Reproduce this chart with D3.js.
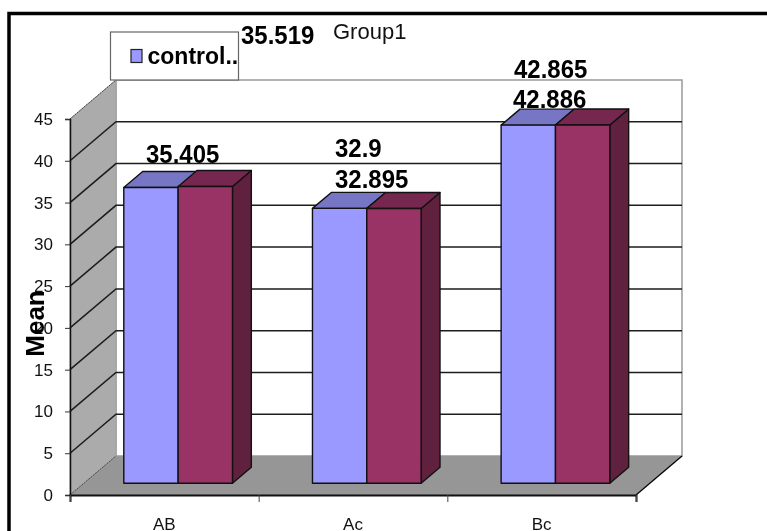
<!DOCTYPE html>
<html>
<head>
<meta charset="utf-8">
<script src="https://cdn.jsdelivr.net/npm/d3@7"></script>
<style>
	html, body { margin: 0; padding: 0; background: #fff; overflow: hidden; }
	svg { display: block; filter: blur(0.45px); font-family: "Liberation Sans", Arial, sans-serif; }
	.tick text { font-size: 17px; fill: #111; }
	.value { font-size: 25.5px; font-weight: bold; fill: #000; }
</style>
</head>
<body>
<div id="chart"></div>
<script>
var categories = ['AB', 'Ac', 'Bc'];
var seriesNames = ['control..', 'Group1'];
var control = [35.405, 32.9, 42.865];
var group1 = [35.519, 32.895, 42.886];
var yTicks = [0, 5, 10, 15, 20, 25, 30, 35, 40, 45];
var labelTexts = ['35.519', '35.405', '32.9', '32.895', '42.865', '42.886'];

var width = 767,
	height = 531,
	left = 70,
	right = 636,
	bottom = 495,
	top45 = 119;

var colors = {
	front: ['#9999ff', '#993366'],
	lid: ['#7676c4', '#76274f'],
	side: ['#7070b8', '#60213f']
};

var xScale = d3.scaleBand().domain(categories).range([left, right]).paddingInner(0.424).paddingOuter(0.212),
	xEdges = d3.scaleLinear().domain([0, 3]).range([left, right]),
	xInner = d3.scaleBand().domain([0, 1]).range([0, xScale.bandwidth()]),
	yScale = d3.scaleLinear().domain([0, 45]).range([bottom, top45]),
	depthX = d3.scaleLinear().domain([0, 1]).range([0, 46]),
	depthY = d3.scaleLinear().domain([0, 1]).range([0, 39]);

var barFront = 0.3, barBack = 0.71;

// screen point for a position on the x axis, a value and a depth into the box
function pt(x, v, d) {
	return [x + depthX(d), yScale(v) - depthY(d)];
}
var poly = d3.line();

var svg = d3.select('#chart').append('svg')
	.attr('width', width)
	.attr('height', height);

// outer frame, only top and left show in the crop
svg.append('path')
	.attr('d', 'M9,531V13.5H767')
	.attr('fill', 'none')
	.attr('stroke', '#000')
	.attr('stroke-width', 3.5);

// back wall
svg.append('path')
	.attr('d', poly([pt(left, 0, 1), pt(left, 45, 1), pt(right, 45, 1), pt(right, 0, 1)]) + 'Z')
	.attr('fill', '#fff')
	.attr('stroke', '#999')
	.attr('stroke-width', 1.5);

// left wall
svg.append('path')
	.attr('d', poly([pt(left, 0, 0), pt(left, 45, 0), pt(left, 45, 1), pt(left, 0, 1)]) + 'Z')
	.attr('fill', '#ababab')
	.attr('stroke', '#a0a0a0');

// floor
svg.append('path')
	.attr('d', poly([pt(left, 0, 0), pt(right, 0, 0), pt(right, 0, 1), pt(left, 0, 1)]) + 'Z')
	.attr('fill', '#969696');

// gridlines on both walls
var gridVals = yTicks.filter(function(d) { return d > 0 && d < 45; });
svg.append('g').selectAll('path')
	.data(gridVals)
	.enter().append('path')
	.attr('d', function(d) { return poly([pt(left, d, 0), pt(left, d, 1), pt(right, d, 1)]); })
	.attr('fill', 'none')
	.attr('stroke', '#1c1c1c')
	.attr('stroke-width', 1.5);

// thin edges of the left wall
svg.append('path')
	.attr('d', poly([pt(left, 45, 0), pt(left, 45, 1)]))
	.attr('stroke', '#444')
	.attr('stroke-dasharray', '2,1');
svg.append('path')
	.attr('d', poly([pt(left, 0, 0), pt(left, 0, 1)]))
	.attr('stroke', '#444')
	.attr('stroke-dasharray', '2,1');
svg.append('path')
	.attr('d', poly([pt(right, 0, 0), pt(right, 0, 1)]))
	.attr('stroke', '#000')
	.attr('stroke-width', 1.2);

// bars
var barData = [];
categories.forEach(function(c, i) {
	barData.push({ cat: c, s: 0, v: control[i] });
	barData.push({ cat: c, s: 1, v: group1[i] });
});

var bars = svg.append('g').selectAll('g')
	.data(barData)
	.enter().append('g')
	.attr('stroke', '#111')
	.attr('stroke-width', 1.4)
	.attr('stroke-linejoin', 'round');

function x0(d) { return xScale(d.cat) + xInner(d.s); }
function x1(d) { return x0(d) + xInner.bandwidth(); }

bars.filter(function(d) { return d.s === 1; }).append('path')
	.attr('d', function(d) {
		return poly([pt(x1(d), 0, barFront), pt(x1(d), 0, barBack), pt(x1(d), d.v, barBack), pt(x1(d), d.v, barFront)]) + 'Z';
	})
	.attr('fill', function(d) { return colors.side[d.s]; });

bars.append('path')
	.attr('d', function(d) {
		return poly([pt(x0(d), d.v, barFront), pt(x0(d), d.v, barBack), pt(x1(d), d.v, barBack), pt(x1(d), d.v, barFront)]) + 'Z';
	})
	.attr('fill', function(d) { return colors.lid[d.s]; });

bars.append('path')
	.attr('d', function(d) {
		return poly([pt(x0(d), 0, barFront), pt(x0(d), d.v, barFront), pt(x1(d), d.v, barFront), pt(x1(d), 0, barFront)]) + 'Z';
	})
	.attr('fill', function(d) { return colors.front[d.s]; });

// axes
var yAxis = d3.axisLeft(yScale).tickValues(yTicks).tickSize(5).tickPadding(12);
var yG = svg.append('g')
	.attr('transform', 'translate(' + left + ',0)')
	.call(yAxis);
yG.select('.domain').attr('stroke', '#111').attr('stroke-width', 1.5);
yG.selectAll('.tick line').attr('stroke', '#333');

var edgeAxis = d3.axisBottom(xEdges).tickValues([0, 1, 2, 3]).tickSize(7).tickFormat('');
var eG = svg.append('g')
	.attr('transform', 'translate(0,' + bottom + ')')
	.call(edgeAxis);
eG.select('.domain').attr('stroke', '#111').attr('stroke-width', 2);
eG.selectAll('.tick line').attr('stroke', '#444');

var xG = svg.append('g')
	.attr('transform', 'translate(0,' + bottom + ')')
	.call(d3.axisBottom(xScale).tickSize(0).tickPadding(23));
xG.select('.domain').remove();

svg.append('text')
	.attr('transform', 'translate(44,323.5) rotate(-90)')
	.attr('text-anchor', 'middle')
	.attr('font-size', 26)
	.attr('font-weight', 'bold')
	.text('Mean');

// data labels, dragged around by hand in the original
var labelXY = [[241, 44], [146, 163], [335, 157], [335, 188], [514, 78], [513, 108]];
svg.append('g').selectAll('text')
	.data(labelTexts)
	.enter().append('text')
	.attr('class', 'value')
	.attr('transform', function(d, i) { return 'translate(' + labelXY[i][0] + ',' + labelXY[i][1] + ') scale(0.94,1)'; })
	.text(function(d) { return d; });

// legend
svg.append('rect')
	.attr('x', 110.5)
	.attr('y', 32)
	.attr('width', 128)
	.attr('height', 48)
	.attr('fill', '#fff')
	.attr('stroke', '#666')
	.attr('stroke-width', 1.2);
svg.append('rect')
	.attr('x', 131)
	.attr('y', 49.5)
	.attr('width', 11)
	.attr('height', 13)
	.attr('fill', colors.front[0])
	.attr('stroke', '#222')
	.attr('stroke-width', 1.2);
svg.append('text')
	.attr('x', 147.5)
	.attr('y', 64)
	.attr('font-size', 23)
	.attr('font-weight', 'bold')
	.text(seriesNames[0]);

// second legend entry sits outside the box, no swatch visible
svg.append('text')
	.attr('x', 333)
	.attr('y', 39)
	.attr('font-size', 22)
	.attr('fill', '#111')
	.text(seriesNames[1]);
</script>
</body>
</html>
